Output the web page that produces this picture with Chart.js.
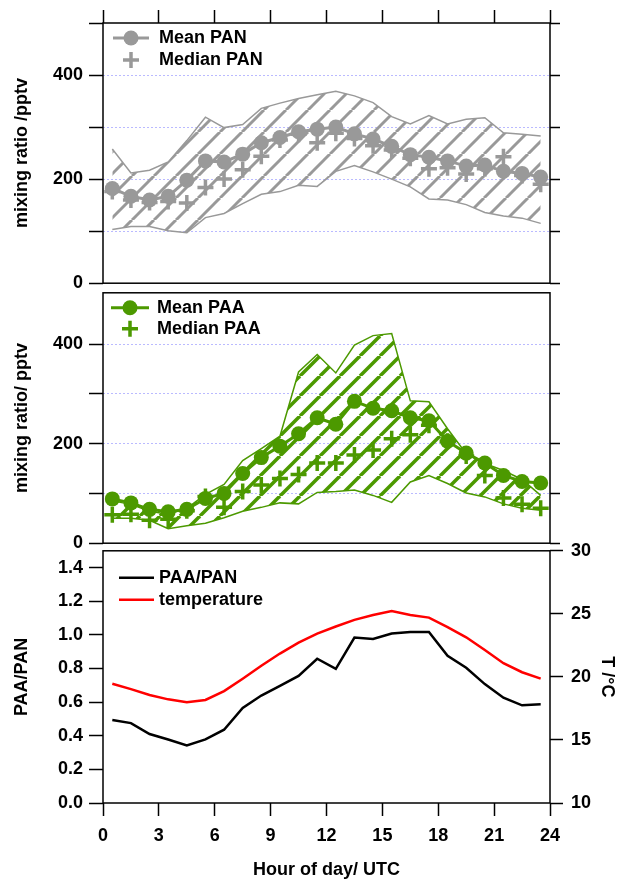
<!DOCTYPE html>
<html>
<head>
<meta charset="utf-8">
<script src="https://cdn.jsdelivr.net/npm/chart.js@4"></script>
<style>
  body { margin: 0; background: #fff; }
  #wrap { position: relative; width: 622px; height: 881px; }
  canvas { position: absolute; left: 0; }
</style>
</head>
<body>
<div id="wrap">
  <canvas id="c1" width="622" height="300" style="top:0"></canvas>
  <canvas id="c2" width="622" height="284" style="top:276px"></canvas>
  <canvas id="c3" width="622" height="349" style="top:532px"></canvas>
</div>
<script>
// ── data (hour of day, UTC) ───────────────────
const hours = [0.5, 1.5, 2.5, 3.5, 4.5, 5.5, 6.5, 7.5, 8.5, 9.5, 10.5, 11.5,
               12.5, 13.5, 14.5, 15.5, 16.5, 17.5, 18.5, 19.5, 20.5, 21.5, 22.5, 23.5];
const hourTicks = [0, 3, 6, 9, 12, 15, 18, 21, 24];
const mixTicks1 = [0, 100, 200, 300, 400, 500];
const mixTicks2 = [0, 100, 200, 300, 400];
const mixLabels = [0, 200, 400];
const ratioTicks = [0, 0.2, 0.4, 0.6, 0.8, 1.0, 1.2, 1.4];
const tempTicks = [10, 15, 20, 25, 30];

const panMean   = [182, 167, 160, 167, 198, 235, 233, 248, 270, 280, 291, 296, 300, 287, 277, 263, 247, 242, 235, 225, 227, 215, 211, 204];
const panMedian = [176, 160, 155, 157, 154, 184, 200, 218, 244, 275, 286, 270, 288, 278, 264, 256, 240, 220, 222, 210, 220, 243, 207, 190];
const panLow    = [103, 109, 109, 101, 97, 126, 134, 153, 171, 176, 188, 186, 215, 226, 214, 200, 185, 162, 160, 151, 136, 129, 125, 115];
const panHigh   = [258, 212, 217, 233, 274, 319, 299, 305, 336, 346, 355, 362, 369, 360, 347, 320, 306, 322, 306, 315, 318, 289, 286, 283];

const paaMean   = [89, 81, 68, 63, 68, 90, 100, 140, 172, 195, 220, 252, 239, 285, 271, 266, 252, 246, 205, 181, 161, 136, 124, 121];
const paaMedian = [57, 58, 46, 48, 65, 94, 72, 104, 117, 130, 138, 161, 161, 177, 187, 210, 218, 237, 205, 175, 136, 91, 78, 70];
const paaLow    = [50, 50, 46, 29, 35, 40, 51, 64, 72, 81, 79, 102, 104, 107, 96, 82, 123, 136, 120, 101, 93, 79, 70, 66];
const paaHigh   = [85, 78, 64, 58, 70, 98, 118, 166, 190, 215, 344, 379, 342, 398, 417, 421, 286, 284, 230, 180, 160, 146, 128, 96];

const ratio     = [0.494, 0.475, 0.41, 0.378, 0.343, 0.378, 0.436, 0.566, 0.639, 0.697, 0.756, 0.858,
                   0.798, 0.984, 0.975, 1.008, 1.017, 1.017, 0.876, 0.804, 0.707, 0.626, 0.581, 0.587];
const temperature = [19.46, 19.03, 18.56, 18.22, 17.99, 18.17, 18.87, 19.86, 20.89, 21.85, 22.71, 23.43,
                     24.0, 24.52, 24.91, 25.22, 24.91, 24.70, 23.95, 23.14, 22.13, 21.09, 20.37, 19.86];

// ── style ──────────────────────────────────────
const GRAY = '#999999';
const GREEN = '#4c9900';
const GRID = 'rgba(140,140,255,0.6)';
const FONT = { family: "'Liberation Sans', Arial, sans-serif", size: 18, weight: 'bold' };

Chart.defaults.font.family = FONT.family;
Chart.defaults.font.size = FONT.size;
Chart.defaults.font.weight = FONT.weight;
Chart.defaults.color = '#000';

const pts = ys => hours.map((h, i) => ({ x: h, y: ys[i] }));
const fixTicks = list => s => { s.ticks = list.map(v => ({ value: v })); };

function hatch(color, gap, width) {
  const c = document.createElement('canvas');
  c.width = c.height = gap;
  const g = c.getContext('2d');
  g.strokeStyle = color;
  g.lineWidth = width;
  for (const k of [-1, 0, 1]) {
    g.beginPath();
    g.moveTo(k * gap, gap);
    g.lineTo(k * gap + gap, 0);
    g.stroke();
  }
  return g.createPattern(c, 'repeat');
}

// frame round the plot area
const frame = {
  id: 'frame',
  afterDraw(chart) {
    const { ctx, chartArea: a } = chart;
    ctx.save();
    ctx.strokeStyle = '#000';
    ctx.lineWidth = 1.5;
    ctx.strokeRect(a.left, a.top, a.right - a.left, a.bottom - a.top);
    ctx.restore();
  }
};

// legend drawn inside the plot area
const keyLegend = {
  id: 'keyLegend',
  afterDraw(chart, args, opts) {
    const { ctx, chartArea: a } = chart;
    ctx.save();
    ctx.font = `${FONT.weight} ${FONT.size}px ${FONT.family}`;
    ctx.textBaseline = 'middle';
    opts.items.forEach((it, i) => {
      const y = a.top + opts.y + i * opts.dy;
      const x0 = a.left + opts.x0, x1 = a.left + opts.x1, xm = (x0 + x1) / 2;
      ctx.strokeStyle = it.color;
      ctx.fillStyle = it.color;
      if (it.line) {
        ctx.lineWidth = it.lineWidth;
        ctx.beginPath(); ctx.moveTo(x0, y); ctx.lineTo(x1, y); ctx.stroke();
      }
      if (it.point === 'circle') {
        ctx.beginPath(); ctx.arc(xm, y, 7.5, 0, Math.PI * 2); ctx.fill();
      } else if (it.point === 'cross') {
        ctx.lineWidth = 3.5;
        ctx.beginPath();
        ctx.moveTo(xm - 8, y); ctx.lineTo(xm + 8, y);
        ctx.moveTo(xm, y - 8); ctx.lineTo(xm, y + 8);
        ctx.stroke();
      }
      ctx.fillStyle = '#000';
      ctx.fillText(it.text, a.left + opts.tx, y);
    });
    ctx.restore();
  }
};

const tickGrid = len => ({
  drawOnChartArea: false, tickLength: len, tickColor: '#000', tickWidth: 1.5
});

const xHidden = { type: 'linear', min: 0, max: 24, display: false };

const mixingY = (max, title, ticks) => ({
  min: 0, max,
  afterBuildTicks: fixTicks(ticks),
  ticks: { padding: 6, callback: v => mixLabels.includes(v) ? String(v) : '' },
  grid: {
    color: c => (c.tick && c.tick.value > 0 && c.tick.value < 500) ? GRID : 'rgba(0,0,0,0)',
    lineWidth: 1, tickColor: '#000', tickLength: 14, tickWidth: 1.5
  },
  border: { display: false, dash: [2, 2] },
  title: { display: true, text: title, padding: { top: 11 } },
  afterFit: s => { s.width = 103; }
});

const rightTicks = (max, ticks) => ({
  position: 'right', min: 0, max,
  afterBuildTicks: fixTicks(ticks),
  ticks: { display: false },
  grid: tickGrid(10),
  border: { display: false },
  afterFit: s => { s.width = 72; }
});

const base = {
  responsive: false, animation: false, devicePixelRatio: 1, events: [],
  plugins: { legend: { display: false }, tooltip: { enabled: false } }
};

// ── panel 1: PAN ───────────────────────────────
new Chart(document.getElementById('c1'), {
  type: 'line',
  data: { datasets: [
    { data: pts(panMean), borderColor: GRAY, backgroundColor: GRAY, borderWidth: 3,
      pointRadius: 7.5, pointBorderWidth: 0, fill: false },
    { data: pts(panMedian), showLine: false, borderColor: GRAY, pointStyle: 'cross',
      pointRadius: 8, pointBorderWidth: 3.5, fill: false },
    { data: pts(panLow), borderColor: GRAY, borderWidth: 1.5, pointRadius: 0, fill: false },
    { data: pts(panHigh), borderColor: GRAY, borderWidth: 1.5, pointRadius: 0,
      fill: '-1', backgroundColor: hatch(GRAY, 22, 3) }
  ]},
  options: {
    ...base,
    layout: { autoPadding: false, padding: { bottom: 12 } },
    scales: {
      x: { type: 'linear', position: 'top', min: 0, max: 24,
           afterBuildTicks: fixTicks(hourTicks),
           ticks: { display: false }, grid: tickGrid(13), border: { display: false },
           afterFit: s => { s.height = 23; } },
      y: mixingY(500, 'mixing ratio /pptv', mixTicks1),
      yr: rightTicks(500, mixTicks1)
    },
    plugins: { ...base.plugins,
      keyLegend: { x0: 10, x1: 46, tx: 56, y: 15, dy: 22, items: [
        { text: 'Mean PAN', color: GRAY, line: true, lineWidth: 3, point: 'circle' },
        { text: 'Median PAN', color: GRAY, point: 'cross' }
      ]}
    }
  },
  plugins: [frame, keyLegend]
});

// ── panel 2: PAA ───────────────────────────────
new Chart(document.getElementById('c2'), {
  type: 'line',
  data: { datasets: [
    { data: pts(paaMean), borderColor: GREEN, backgroundColor: GREEN, borderWidth: 3,
      pointRadius: 7.5, pointBorderWidth: 0, fill: false },
    { data: pts(paaMedian), showLine: false, borderColor: GREEN, pointStyle: 'cross',
      pointRadius: 8, pointBorderWidth: 3.5, fill: false },
    { data: pts(paaLow), borderColor: GREEN, borderWidth: 1.5, pointRadius: 0, fill: false },
    { data: pts(paaHigh), borderColor: GREEN, borderWidth: 1.5, pointRadius: 0,
      fill: '-1', backgroundColor: hatch(GREEN, 20, 3.5) }
  ]},
  options: {
    ...base,
    layout: { autoPadding: false, padding: { top: 12, bottom: 14 } },
    scales: {
      x: xHidden,
      y: mixingY(503, 'mixing ratio/ pptv', mixTicks2),
      yr: rightTicks(503, mixTicks2)
    },
    plugins: { ...base.plugins,
      keyLegend: { x0: 8, x1: 46, tx: 54, y: 15, dy: 21, items: [
        { text: 'Mean PAA', color: GREEN, line: true, lineWidth: 3, point: 'circle' },
        { text: 'Median PAA', color: GREEN, point: 'cross' }
      ]}
    }
  },
  plugins: [frame, keyLegend]
});

// ── panel 3: ratio and temperature ─────────────
new Chart(document.getElementById('c3'), {
  type: 'line',
  data: { datasets: [
    { data: pts(ratio), borderColor: '#000', borderWidth: 2.5, pointRadius: 0, fill: false, yAxisID: 'y' },
    { data: pts(temperature), borderColor: '#ff0000', borderWidth: 2.5, pointRadius: 0, fill: false, yAxisID: 'yr' }
  ]},
  options: {
    ...base,
    layout: { autoPadding: false, padding: { top: 14 } },
    scales: {
      x: { type: 'linear', position: 'bottom', min: 0, max: 24,
           afterBuildTicks: fixTicks(hourTicks),
           ticks: { padding: 9 }, grid: tickGrid(13), border: { display: false },
           title: { display: true, text: 'Hour of day/ UTC', padding: { top: 0, bottom: 0 } },
           afterFit: s => { s.height = 78; } },
      y: { position: 'left', min: 0, max: 1.5,
           afterBuildTicks: fixTicks(ratioTicks),
           ticks: { padding: 6, callback: v => v.toFixed(1) },
           grid: tickGrid(14), border: { display: false },
           title: { display: true, text: 'PAA/PAN', padding: { top: 11 } },
           afterFit: s => { s.width = 103; } },
      yr: { position: 'right', min: 10, max: 30,
            afterBuildTicks: fixTicks(tempTicks),
            ticks: { padding: 8 },
            grid: tickGrid(13), border: { display: false },
            title: { display: true, text: 'T /°C', padding: { top: 4 } },
            afterFit: s => { s.width = 72; } }
    },
    plugins: { ...base.plugins,
      keyLegend: { x0: 16, x1: 51, tx: 56, y: 27, dy: 22, items: [
        { text: 'PAA/PAN', color: '#000', line: true, lineWidth: 2.5 },
        { text: 'temperature', color: '#ff0000', line: true, lineWidth: 2.5 }
      ]}
    }
  },
  plugins: [frame, keyLegend]
});
</script>
</body>
</html>
